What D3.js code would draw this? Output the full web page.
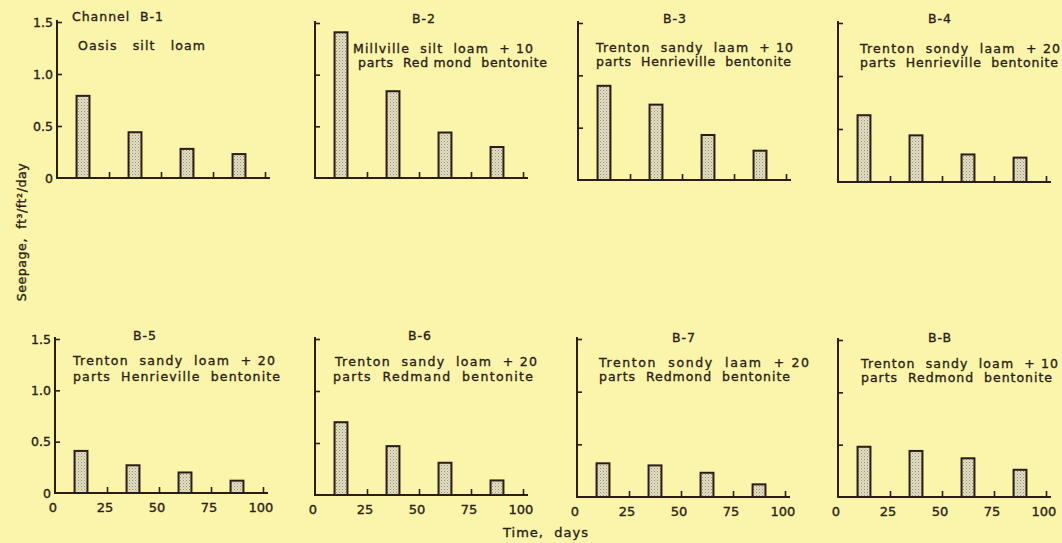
<!DOCTYPE html>
<html>
<head>
<meta charset="utf-8">
<script src="https://cdn.jsdelivr.net/npm/d3@7"></script>
<style>
  html, body { margin: 0; padding: 0; background: #faf5ab; }
  svg { display: block; }
  text { font-family: "DejaVu Sans", sans-serif; fill: #2b1d14; stroke: #2b1d14; stroke-width: 0.35px; }
</style>
</head>
<body>
<svg id="chart" width="1062" height="543"></svg>
<script>
// ---------------- DATA ----------------
const days = [12.5, 37.5, 62.5, 87.5];
const channels = ["Channel  B-1", "B-2", "B-3", "B-4", "B-5", "B-6", "B-7", "B-B"];
const descLine1 = [
  "Oasis   silt   loam",
  "Millville  silt  loam  + 10",
  "Trenton  sandy  laam  + 10",
  "Trenton  sondy  laam  + 20",
  "Trenton  sandy  loam  + 20",
  "Trenton  sandy  loam  + 20",
  "Trenton  sondy  laam  + 20",
  "Trenton  sandy  loam  + 10"
];
const descLine2 = [
  "",
  "parts  Red mond  bentonite",
  "parts  Henrieville  bentonite",
  "parts  Henrieville  bentonite",
  "parts  Henrieville  bentonite",
  "parts  Redmand  bentonite",
  "parts  Redmond  bentonite",
  "parts  Redmond  bentonite"
];
const seepB1 = [0.79, 0.44, 0.28, 0.23];
const seepB2 = [1.41, 0.84, 0.44, 0.30];
const seepB3 = [0.90, 0.72, 0.43, 0.28];
const seepB4 = [0.63, 0.44, 0.26, 0.23];
const seepB5 = [0.41, 0.27, 0.20, 0.12];
const seepB6 = [0.70, 0.47, 0.31, 0.14];
const seepB7 = [0.32, 0.30, 0.23, 0.12];
const seepB8 = [0.48, 0.44, 0.37, 0.26];
const seepage = [seepB1, seepB2, seepB3, seepB4, seepB5, seepB6, seepB7, seepB8];
const yTicks = [0, 0.5, 1.0, 1.5];
const yTickLabels = ["0", "0.5", "1.0", "1.5"];
const xTicks = [0, 25, 50, 75, 100];
const xTickLabels = ["0", "25", "50", "75", "100"];
const yAxisTitle = "Seepage,  ft³/ft²/day";
const xAxisTitle = "Time,  days";

// ---------------- LAYOUT ----------------
const ink = "#2b1d14";
const panels = [
  {x: 57,  y0: 178, yt: 22},
  {x: 315, y0: 178, yt: 23},
  {x: 578, y0: 180, yt: 23},
  {x: 838, y0: 182, yt: 23},
  {x: 55,  y0: 493, yt: 339},
  {x: 315, y0: 495, yt: 339},
  {x: 577, y0: 497, yt: 339},
  {x: 838, y0: 497, yt: 340}
];
const titlePos = [
  {x: 72, y: 21, anchor: "start", w: 92},
  {x: 424, y: 23, anchor: "middle"},
  {x: 675, y: 23, anchor: "middle"},
  {x: 940, y: 23, anchor: "middle"},
  {x: 145, y: 340, anchor: "middle"},
  {x: 420, y: 340, anchor: "middle"},
  {x: 684, y: 342, anchor: "middle"},
  {x: 940, y: 342, anchor: "middle"}
];
const descPos = [
  {x: 78,  y1: 50,  w1: 127, y2: 0,   w2: 0},
  {x1: 353, x2: 358, y1: 53,  w1: 180, y2: 67,  w2: 189},
  {x: 596, y1: 52,  w1: 197, y2: 66,  w2: 195},
  {x: 860, y1: 53,  w1: 200, y2: 67,  w2: 198},
  {x: 73,  y1: 365, w1: 202, y2: 381, w2: 207},
  {x1: 335, x2: 333, y1: 366, w1: 202, y2: 381, w2: 200},
  {x: 599, y1: 367, w1: 210, y2: 381, w2: 191},
  {x: 861, y1: 368, w1: 197, y2: 382, w2: 191}
];

const svg = d3.select("#chart");
svg.append("rect").attr("width", 1062).attr("height", 543).attr("fill", "#faf5ab");

// stipple pattern
const defs = svg.append("defs");
const pat = defs.append("pattern").attr("id", "stip")
  .attr("patternUnits", "userSpaceOnUse").attr("width", 3).attr("height", 3);
pat.append("rect").attr("width", 3).attr("height", 3).attr("fill", "#e2dec0");
pat.append("rect").attr("x", 0).attr("y", 0).attr("width", 1).attr("height", 1).attr("fill", "#96907a");
pat.append("rect").attr("x", 1.5).attr("y", 1.5).attr("width", 1).attr("height", 1).attr("fill", "#b4af96");

const halfBar = 3.1;

seepage.forEach((vals, i) => {
  const p = panels[i];
  const g = svg.append("g");
  const x = d3.scaleLinear().domain([0, 100]).range([p.x, p.x + 208]);
  const y = d3.scaleLinear().domain([0, 1.5]).range([p.y0, p.yt]);

  g.selectAll("rect.bar").data(vals).join("rect")
    .attr("class", "bar")
    .attr("x", (d, j) => x(days[j] - halfBar))
    .attr("width", (d, j) => x(days[j] + halfBar) - x(days[j] - halfBar))
    .attr("y", d => y(d))
    .attr("height", d => y(0) - y(d))
    .attr("fill", "url(#stip)")
    .attr("stroke", ink).attr("stroke-width", 2);

  const showY = (i % 4 === 0);
  const yAxis = d3.axisRight(y).tickValues(yTicks).tickSize(5).tickFormat("");
  const ya = g.append("g").attr("transform", `translate(${p.x},0)`).call(yAxis);
  ya.select(".domain").attr("d", `M0,${p.yt - 2}V${p.y0}`).attr("stroke", ink).attr("stroke-width", 2);
  ya.selectAll(".tick line").attr("stroke", ink).attr("stroke-width", 1.6);
  ya.selectAll(".tick").filter(d => d === 0).select("line").remove();
  if (showY) {
    g.selectAll("text.ylab").data(yTicks).join("text")
      .attr("class", "ylab")
      .attr("x", p.x - 4)
      .attr("y", d => y(d) + 4.5)
      .attr("text-anchor", "end")
      .attr("font-size", 12.5)
      .text((d, j) => yTickLabels[j]);
  }

  const xAxis = d3.axisTop(x).tickValues(xTicks.slice(1)).tickSize(6).tickFormat("");
  const xa = g.append("g").attr("transform", `translate(0,${p.y0})`).call(xAxis);
  xa.select(".domain").attr("d", `M${p.x - 1},0H${p.x + 213}`).attr("stroke", ink).attr("stroke-width", 2);
  xa.selectAll(".tick line").attr("stroke", ink).attr("stroke-width", 1.6);
  if (i >= 4) {
    g.selectAll("text.xlab").data(xTicks).join("text")
      .attr("class", "xlab")
      .attr("x", d => x(d) - 2)
      .attr("y", p.y0 + 19)
      .attr("text-anchor", "middle")
      .attr("font-size", 13)
      .text((d, j) => xTickLabels[j]);
  }

  const tp = titlePos[i];
  const t = g.append("text")
    .attr("x", tp.x).attr("y", tp.y)
    .attr("text-anchor", tp.anchor)
    .attr("font-size", 12.5)
    .attr("letter-spacing", 1)
    .style("white-space", "pre")
    .text(channels[i]);
  if (tp.w) t.attr("textLength", tp.w).attr("lengthAdjust", "spacing");

  const dp = descPos[i];
  const x1 = dp.x1 !== undefined ? dp.x1 : dp.x;
  const x2 = dp.x2 !== undefined ? dp.x2 : dp.x;
  g.append("text")
    .attr("x", x1).attr("y", dp.y1)
    .attr("font-size", 12.5)
    .attr("textLength", dp.w1).attr("lengthAdjust", "spacing")
    .style("white-space", "pre")
    .text(descLine1[i]);
  if (descLine2[i]) {
    g.append("text")
      .attr("x", x2).attr("y", dp.y2)
      .attr("font-size", 12.5)
      .attr("textLength", dp.w2).attr("lengthAdjust", "spacing")
      .style("white-space", "pre")
      .text(descLine2[i]);
  }
});

svg.append("text")
  .attr("transform", "translate(26,232) rotate(-90)")
  .attr("text-anchor", "middle")
  .attr("font-size", 12.5)
  .attr("letter-spacing", 0.6)
  .style("white-space", "pre")
  .text(yAxisTitle);

svg.append("text")
  .attr("x", 546).attr("y", 537)
  .attr("text-anchor", "middle")
  .attr("font-size", 13)
  .attr("letter-spacing", 1)
  .style("white-space", "pre")
  .text(xAxisTitle);
</script>
</body>
</html>
